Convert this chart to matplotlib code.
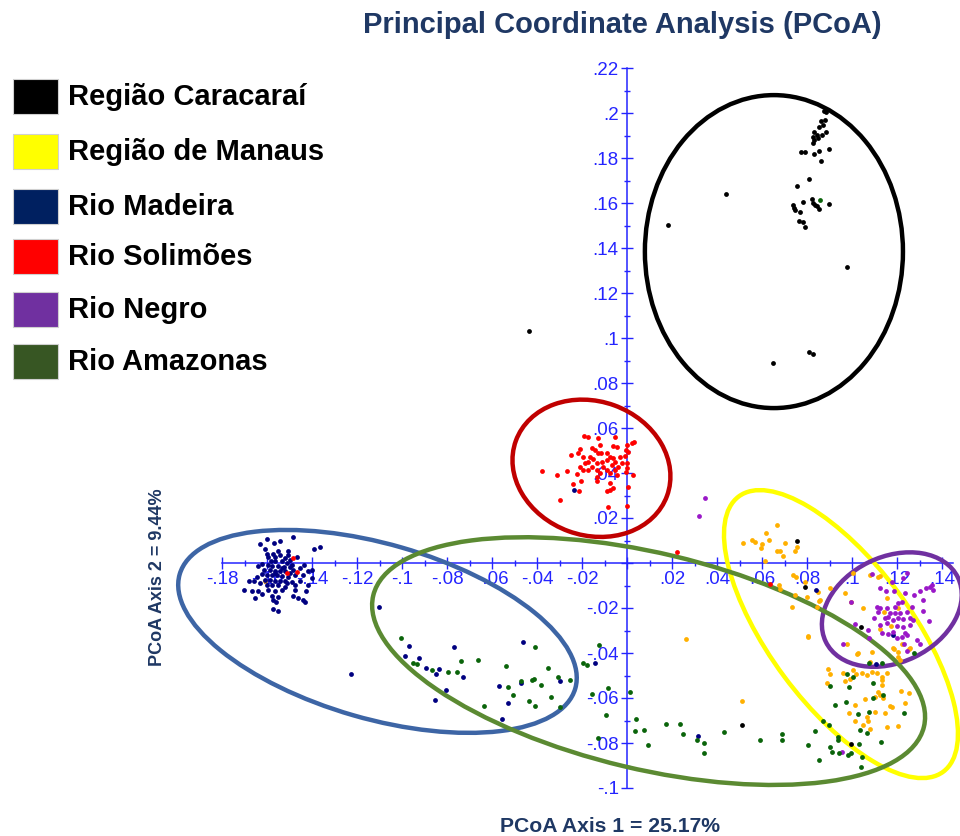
import matplotlib
matplotlib.use("Agg")
import matplotlib.pyplot as plt
from matplotlib.patches import Ellipse, Rectangle
from matplotlib.ticker import MultipleLocator, FuncFormatter

plt.rcParams['font.family'] = ['Liberation Sans', 'DejaVu Sans']

# --- data (PCoA axis 1, axis 2) ---
groups = ['Região Caracaraí', 'Região de Manaus', 'Rio Madeira',
          'Rio Solimões', 'Rio Negro', 'Rio Amazonas']
legend_colors = ['#000000', '#FFFF00', '#002060', '#FF0000', '#7030A0', '#375623']
point_colors = ['#000000', '#FFB000', '#000080', '#FF0000', '#9A18C8', '#0A640A']
ellipse_colors = ['#000000', '#FFFF00', '#3D65A5', '#C00000', '#7030A0', '#5B8A32']

caracarai_pts = [
    (0.0877, 0.2010), (0.0883, 0.2003), (0.0880, 0.1969), (0.0861, 0.1964), (0.0870, 0.1947),
    (0.0855, 0.1939), (0.0831, 0.1917), (0.0825, 0.1895), (0.0843, 0.1902), (0.0865, 0.1902),
    (0.0884, 0.1914), (0.0831, 0.1880), (0.0850, 0.1890), (0.0828, 0.1865), (0.0775, 0.1828),
    (0.0790, 0.1825), (0.0832, 0.1819), (0.0853, 0.1832), (0.0898, 0.1839), (0.0864, 0.1787),
    (0.0810, 0.1707), (0.0757, 0.1676), (0.0441, 0.1639), (0.0182, 0.1501), (0.0781, 0.1606),
    (0.0821, 0.1616), (0.0825, 0.1599), (0.0836, 0.1591), (0.0843, 0.1587), (0.0855, 0.1573),
    (0.0899, 0.1596), (0.0739, 0.1591), (0.0742, 0.1576), (0.0747, 0.1569), (0.0769, 0.1559),
    (0.0764, 0.1520), (0.0784, 0.1514), (0.0791, 0.1495), (0.0979, 0.1316), (0.0810, 0.0939),
    (0.0828, 0.0928), (0.0650, 0.0890), (-0.0436, 0.1031), (0.0757, 0.0096), (0.0793, -0.0105),
    (0.1041, -0.0285), (0.0510, -0.0720), (0.0996, -0.0804),
]

manaus_pts = [
    (0.0517, 0.0088), (0.0554, 0.0102), (0.0569, 0.0095), (0.0599, 0.0084), (0.0618, 0.0135),
    (0.0631, 0.0102), (0.0668, 0.0169), (0.0701, 0.0088), (0.0680, 0.0055), (0.0665, 0.0055),
    (0.0692, 0.0031), (0.0747, 0.0053), (0.0757, 0.0072), (0.0613, 0.0009), (0.0596, 0.0065),
    (0.0677, -0.0098), (0.0680, -0.0117), (0.0739, -0.0053), (0.0747, -0.0142), (0.0799, -0.0150),
    (0.0850, -0.0128), (0.0858, -0.0164), (0.0846, -0.0194), (0.0732, -0.0194), (0.0803, -0.0324),
    (0.0262, -0.0339), (0.0512, -0.0613), (0.0902, -0.0112), (0.0969, -0.0132), (0.0994, -0.0172),
    (0.1048, -0.0199), (0.1080, -0.0053), (0.1117, -0.0061), (0.1006, -0.0046), (0.1028, -0.0401),
    (0.1184, -0.0379), (0.1206, -0.0394), (0.0806, -0.0328), (0.1021, -0.0404), (0.1080, -0.0439),
    (0.1088, -0.0394), (0.1221, -0.0360), (0.1255, -0.0384), (0.1187, -0.0384), (0.1213, -0.0431),
    (0.0892, -0.0472), (0.0902, -0.0495), (0.0890, -0.0535), (0.0959, -0.0488), (0.0969, -0.0523),
    (0.0991, -0.0517), (0.1003, -0.0476), (0.1018, -0.0493), (0.1043, -0.0488), (0.1065, -0.0498),
    (0.1088, -0.0483), (0.1110, -0.0488), (0.1132, -0.0505), (0.1154, -0.0488), (0.1132, -0.0520),
    (0.1132, -0.0542), (0.1117, -0.0572), (0.1124, -0.0587), (0.1139, -0.0601), (0.1102, -0.0594),
    (0.1216, -0.0569), (0.1253, -0.0579), (0.1058, -0.0606), (0.1013, -0.0631), (0.1169, -0.0636),
    (0.1176, -0.0639), (0.1236, -0.0621), (0.0988, -0.0665), (0.1065, -0.0686), (0.1072, -0.0701),
    (0.1147, -0.0668), (0.1102, -0.0661), (0.1013, -0.0701), (0.1050, -0.0720), (0.1080, -0.0739),
    (0.1154, -0.0728), (0.1206, -0.0724), (0.0791, -0.0083), (0.0855, -0.0169), (0.0751, -0.0061),
    (0.1124, -0.0058), (0.1154, -0.0157), (0.1144, -0.0216), (0.1206, -0.0201), (0.1124, -0.0293),
    (0.1173, -0.0280), (0.0976, -0.0360), (0.1206, -0.0416), (0.1258, -0.0379), (-0.1609, -0.0081),
]

madeira_pts = [
    (-0.1631, 0.0084), (-0.1599, 0.0108), (-0.1483, 0.0114), (-0.1567, 0.0089), (-0.1550, 0.0052),
    (-0.1609, 0.0064), (-0.1542, 0.0096), (-0.1505, 0.0055), (-0.1390, 0.0061), (-0.1364, 0.0072),
    (-0.1601, 0.0040), (-0.1575, 0.0040), (-0.1564, 0.0025), (-0.1542, 0.0034), (-0.1520, 0.0022),
    (-0.1505, 0.0037), (-0.1498, 0.0015), (-0.1468, 0.0025), (-0.1582, 0.0010), (-0.1564, 0.0007),
    (-0.1535, 0.0007), (-0.1512, 0.0000), (-0.1490, -0.0007), (-0.1621, -0.0004), (-0.1639, -0.0015),
    (-0.1594, -0.0010), (-0.1550, -0.0015), (-0.1523, -0.0019), (-0.1498, -0.0019), (-0.1453, -0.0022),
    (-0.1434, -0.0010), (-0.1416, -0.0034), (-0.1399, -0.0030), (-0.1612, -0.0030), (-0.1587, -0.0030),
    (-0.1564, -0.0034), (-0.1542, -0.0037), (-0.1520, -0.0037), (-0.1498, -0.0044), (-0.1624, -0.0049),
    (-0.1601, -0.0052), (-0.1579, -0.0052), (-0.1557, -0.0055), (-0.1535, -0.0059), (-0.1505, -0.0064),
    (-0.1476, -0.0052), (-0.1439, -0.0052), (-0.1646, -0.0064), (-0.1609, -0.0074), (-0.1587, -0.0074),
    (-0.1564, -0.0079), (-0.1542, -0.0081), (-0.1520, -0.0079), (-0.1490, -0.0084), (-0.1453, -0.0079),
    (-0.1401, -0.0067), (-0.1680, -0.0079), (-0.1656, -0.0081), (-0.1631, -0.0089), (-0.1601, -0.0096),
    (-0.1579, -0.0099), (-0.1550, -0.0099), (-0.1520, -0.0108), (-0.1476, -0.0099), (-0.1419, -0.0099),
    (-0.1701, -0.0119), (-0.1668, -0.0126), (-0.1639, -0.0123), (-0.1594, -0.0119), (-0.1564, -0.0126),
    (-0.1535, -0.0119), (-0.1476, -0.0119), (-0.1428, -0.0123), (-0.1621, -0.0138), (-0.1579, -0.0148),
    (-0.1550, -0.0153), (-0.1653, -0.0156), (-0.1483, -0.0148), (-0.1464, -0.0156), (-0.1439, -0.0163),
    (-0.1572, -0.0163), (-0.1431, -0.0173), (-0.1561, -0.0173), (-0.1572, -0.0203), (-0.1552, -0.0212),
    (-0.1579, -0.0015), (-0.1535, -0.0022), (-0.1564, -0.0044), (-0.1512, -0.0089), (-0.1597, 0.0025),
    (-0.1483, -0.0030),
    (-0.0968, -0.0369), (-0.0987, -0.0413), (-0.0924, -0.0421), (-0.0893, -0.0465), (-0.0850, -0.0495),
    (-0.0834, -0.0471), (-0.0769, -0.0375), (-0.0730, -0.0508), (-0.0804, -0.0564), (-0.0852, -0.0609),
    (-0.0464, -0.0352), (-0.0569, -0.0547), (-0.0471, -0.0535), (-0.0298, -0.0524), (-0.0529, -0.0621),
    (-0.0554, -0.0693), (-0.0142, -0.0446), (-0.1102, -0.0197), (-0.1227, -0.0495), (0.0317, -0.0769),
    (0.0839, -0.0120), (0.1181, -0.0318), (0.1107, -0.0449), (-0.0234, 0.0323),
]

solimoes_pts = [
    (-0.0190, 0.0564), (-0.0172, 0.0561), (-0.0128, 0.0554), (-0.0053, 0.0559), (0.0021, 0.0535),
    (-0.0001, 0.0524), (-0.0120, 0.0524), (-0.0061, 0.0520), (-0.0046, 0.0514), (-0.0157, 0.0510),
    (-0.0209, 0.0505), (-0.0142, 0.0502), (-0.0003, 0.0502), (0.0006, 0.0495), (-0.0090, 0.0488),
    (-0.0128, 0.0488), (-0.0116, 0.0488), (-0.0250, 0.0480), (-0.0216, 0.0488), (-0.0194, 0.0472),
    (-0.0164, 0.0472), (-0.0076, 0.0472), (-0.0150, 0.0461), (-0.0061, 0.0465), (-0.0031, 0.0470),
    (-0.0009, 0.0476), (-0.0172, 0.0450), (-0.0112, 0.0450), (-0.0090, 0.0458), (-0.0053, 0.0450),
    (-0.0187, 0.0443), (-0.0135, 0.0443), (-0.0068, 0.0436), (-0.0024, 0.0443), (0.0000, 0.0443),
    (-0.0209, 0.0428), (-0.0157, 0.0428), (-0.0105, 0.0428), (-0.0039, 0.0428), (0.0002, 0.0421),
    (-0.0194, 0.0413), (-0.0172, 0.0413), (-0.0135, 0.0413), (-0.0090, 0.0413), (-0.0053, 0.0413),
    (-0.0120, 0.0401), (-0.0076, 0.0399), (-0.0004, 0.0406), (-0.0379, 0.0410), (-0.0312, 0.0391),
    (-0.0268, 0.0410), (-0.0224, 0.0396), (-0.0135, 0.0384), (-0.0046, 0.0391), (0.0028, 0.0391),
    (-0.0135, 0.0364), (-0.0206, 0.0366), (-0.0239, 0.0351), (-0.0076, 0.0354), (-0.0061, 0.0332),
    (-0.0090, 0.0320), (-0.0212, 0.0321), (-0.0298, 0.0280), (-0.0076, 0.0324), (-0.0086, 0.0248),
    (-0.0001, 0.0253), (0.0031, 0.0539), (0.0006, 0.0339), (0.0221, 0.0049), (0.0636, -0.0093),
    (-0.1483, 0.0022), (-0.1465, -0.0040), (-0.1512, -0.0044),
]

negro_pts = [
    (0.1088, -0.0049), (0.1124, -0.0112), (0.1151, -0.0124), (0.1188, -0.0124), (0.1236, -0.0132),
    (0.1276, -0.0142), (0.1302, -0.0123), (0.1329, -0.0110), (0.1357, -0.0098), (0.1317, -0.0164),
    (0.0994, -0.0175), (0.1110, -0.0194), (0.1124, -0.0201), (0.1117, -0.0216), (0.1154, -0.0201),
    (0.1206, -0.0179), (0.1221, -0.0172), (0.1191, -0.0194), (0.1265, -0.0194), (0.1169, -0.0224),
    (0.1191, -0.0224), (0.1213, -0.0221), (0.1243, -0.0216), (0.1317, -0.0212), (0.1098, -0.0246),
    (0.1147, -0.0246), (0.1161, -0.0239), (0.1184, -0.0253), (0.1206, -0.0246), (0.1228, -0.0250),
    (0.1258, -0.0246), (0.1272, -0.0253), (0.1342, -0.0256), (0.1124, -0.0276), (0.1154, -0.0268),
    (0.1199, -0.0280), (0.1228, -0.0283), (0.1258, -0.0276), (0.1013, -0.0271), (0.1072, -0.0298),
    (0.1132, -0.0312), (0.1184, -0.0305), (0.1236, -0.0312), (0.1221, -0.0328), (0.1243, -0.0320),
    (0.1077, -0.0335), (0.1199, -0.0335), (0.1288, -0.0342), (0.0961, -0.0360), (0.1231, -0.0360),
    (0.1243, -0.0046), (0.1228, -0.0068), (0.1176, -0.0083), (0.0347, 0.0288), (0.0320, 0.0210),
    (0.1347, -0.0105), (0.1359, -0.0120), (0.0954, -0.0839), (0.1159, -0.0316), (0.1302, -0.0360),
    (0.1243, -0.0390),
]

amazonas_pts = [
    (-0.1006, -0.0332), (-0.0950, -0.0443), (-0.0935, -0.0449), (-0.0868, -0.0476), (-0.0794, -0.0483),
    (-0.0754, -0.0486), (-0.0739, -0.0436), (-0.0661, -0.0431), (-0.0538, -0.0458), (-0.0409, -0.0375),
    (-0.0528, -0.0552), (-0.0508, -0.0587), (-0.0472, -0.0523), (-0.0424, -0.0520), (-0.0413, -0.0514),
    (-0.0382, -0.0542), (-0.0352, -0.0465), (-0.0305, -0.0508), (-0.0339, -0.0594), (-0.0436, -0.0612),
    (-0.0408, -0.0636), (-0.0634, -0.0636), (-0.0253, -0.0520), (-0.0298, -0.0641), (-0.0194, -0.0446),
    (-0.0176, -0.0453), (-0.0124, -0.0364), (-0.0086, -0.0557), (-0.0156, -0.0582), (-0.0093, -0.0677),
    (0.0013, -0.0572), (0.0040, -0.0695), (0.0037, -0.0747), (0.0076, -0.0742), (0.0172, -0.0714),
    (0.0236, -0.0716), (0.0248, -0.0761), (0.0092, -0.0810), (-0.0128, -0.0779), (0.0310, -0.0787),
    (0.0342, -0.0801), (0.0342, -0.0843), (0.0432, -0.0752), (0.0591, -0.0787), (0.0689, -0.0760),
    (0.0688, -0.0787), (0.0806, -0.0809), (0.0836, -0.0745), (0.0872, -0.0701), (0.0899, -0.0720),
    (0.0936, -0.0772), (0.0936, -0.0787), (0.0902, -0.0816), (0.0910, -0.0841), (0.0942, -0.0846),
    (0.0984, -0.0853), (0.0994, -0.0846), (0.0853, -0.0876), (0.1043, -0.0861), (0.1040, -0.0908),
    (0.1032, -0.0804), (0.1128, -0.0794), (0.1036, -0.0742), (0.1065, -0.0757), (0.0973, -0.0616),
    (0.0924, -0.0631), (0.1028, -0.0671), (0.1092, -0.0601), (0.1077, -0.0661), (0.1092, -0.0535),
    (0.0988, -0.0550), (0.0976, -0.0493), (0.1006, -0.0508), (0.0902, -0.0547), (0.1136, -0.0587),
    (0.1231, -0.0665), (0.1276, -0.0399), (0.1132, -0.0446), (0.0859, 0.1612), (0.1077, -0.0446),
]

all_pts = [caracarai_pts, manaus_pts, madeira_pts, solimoes_pts, negro_pts, amazonas_pts]

# group ellipses: centre x, centre y, width, height, angle (deg)
ellipse_cx = [0.0653, 0.0951, -0.1109, -0.0158, 0.1177, 0.0096]
ellipse_cy = [0.1384, -0.0316, -0.0304, 0.0421, -0.0207, -0.0436]
ellipse_w = [0.1147, 0.1524, 0.1830, 0.0715, 0.0653, 0.2516]
ellipse_h = [0.1391, 0.0630, 0.0776, 0.0595, 0.0468, 0.0960]
ellipse_ang = [0, -53.4, -16.1, -20, 26, -13.4]

# --- figure ---
W, H = 960, 836
x0_px, y0_px, px_per_unit = 627, 563, 2250   # where the origin sits in the picture
fig = plt.figure(figsize=(W / 100, H / 100), dpi=100)
ax = fig.add_axes([0, 0, 1, 1])
ax.set_xlim(-x0_px / px_per_unit, (W - x0_px) / px_per_unit)
ax.set_ylim(-(H - y0_px) / px_per_unit, y0_px / px_per_unit)
ax.patch.set_visible(False)

axis_blue = '#2424FF'
for side in ['top', 'right']:
    ax.spines[side].set_visible(False)
ax.spines['left'].set_position(('data', 0))
ax.spines['bottom'].set_position(('data', 0))
ax.spines['left'].set_bounds(-0.1, 0.22)
ax.spines['bottom'].set_bounds(-0.18, 0.145)
for side in ['left', 'bottom']:
    ax.spines[side].set_color(axis_blue)
    ax.spines[side].set_linewidth(1.1)


def short_fmt(v, pos):
    if abs(v) < 1e-9:
        return ''
    s = f'{v:.2f}'.rstrip('0')
    return s.replace('0.', '.', 1)


ax.xaxis.set_major_formatter(FuncFormatter(short_fmt))
ax.yaxis.set_major_formatter(FuncFormatter(short_fmt))
ax.set_xticks([t / 100 for t in range(-18, 15, 2)])
ax.set_yticks([t / 100 for t in range(-10, 23, 2)])
ax.set_xticks([t / 100 for t in range(-18, 15)], minor=True)
ax.set_yticks([t / 100 for t in range(-10, 23)], minor=True)
ax.tick_params(which='major', direction='inout', length=8, width=1, color=axis_blue,
               labelcolor=axis_blue, labelsize=13.5, pad=2)
ax.tick_params(which='minor', direction='inout', length=5, width=1, color=axis_blue)

# ellipses
for i in range(len(groups)):
    ax.add_patch(Ellipse((ellipse_cx[i], ellipse_cy[i]), ellipse_w[i], ellipse_h[i],
                         angle=ellipse_ang[i], fill=False, lw=3.2, color=ellipse_colors[i], zorder=3))

# points
for pts, col in zip(all_pts, point_colors):
    xs = [p[0] for p in pts]
    ys = [p[1] for p in pts]
    ax.scatter(xs, ys, s=12, color=col, linewidths=0, zorder=4)

# title and axis titles
navy = '#1F3864'
fig.text(622 / W, 1 - 25 / H, 'Principal Coordinate Analysis (PCoA)', ha='center', va='center',
         fontsize=21, fontweight='bold', color=navy)
fig.text(610 / W, 1 - 826 / H, 'PCoA Axis 1 = 25.17%', ha='center', va='center',
         fontsize=15.2, fontweight='bold', color=navy)
fig.text(157 / W, 1 - 577 / H, 'PCoA Axis 2 = 9.44%', ha='center', va='center', rotation=90,
         fontsize=13, fontweight='bold', color=navy)

# legend (coloured squares + labels)
row_y = [97, 152, 207, 257, 310, 362]
for name, col, yc in zip(groups, legend_colors, row_y):
    fig.patches.append(Rectangle((13 / W, 1 - (yc + 17) / H), 45 / W, 35 / H,
                                 transform=fig.transFigure, facecolor=col,
                                 edgecolor='#d0d0d0', lw=0.8))
    fig.text(68 / W, 1 - yc / H, name, ha='left', va='center',
             fontsize=21, fontweight='bold', color='black')

fig.savefig('out.png', dpi=100)
